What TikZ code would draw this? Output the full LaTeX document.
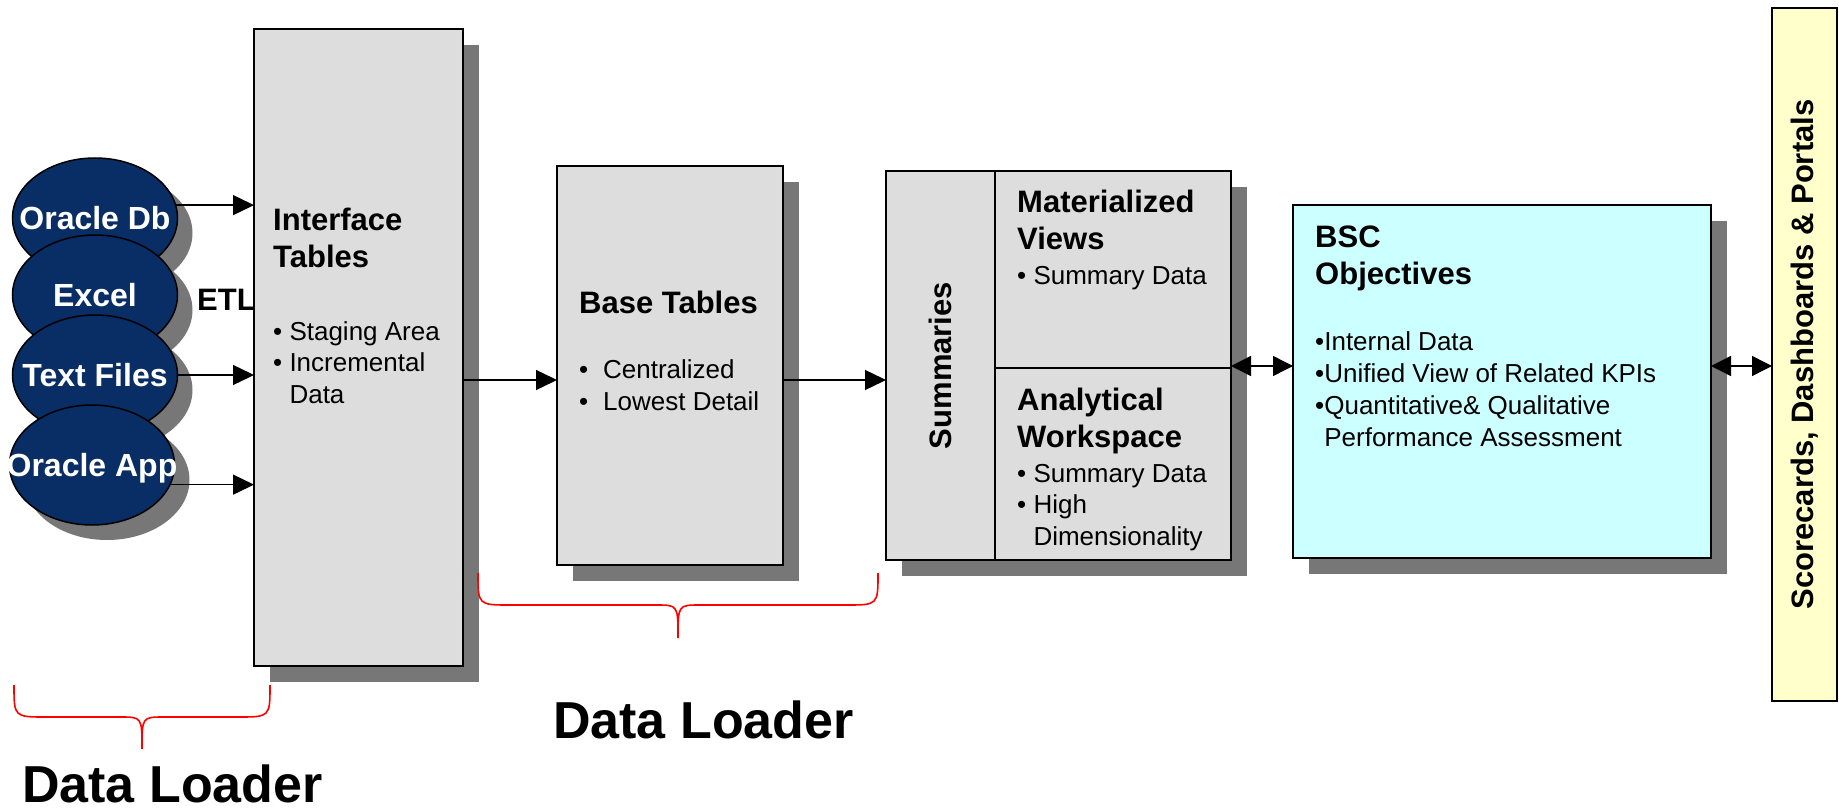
\documentclass[tikz,border=0pt]{standalone}
\usepackage{fontspec}
\setmainfont{Liberation Sans}
\usetikzlibrary{shapes.geometric,shadows,arrows.meta}
\definecolor{boxgray}{HTML}{DDDDDD}
\definecolor{shadowgray}{HTML}{777777}
\definecolor{srcnavy}{HTML}{092D65}
\definecolor{bsccyan}{HTML}{CCFFFF}
\definecolor{portalyellow}{HTML}{FFFFCC}
\tikzstyle{box} = [rectangle,draw,line width=2.2pt,fill=boxgray,anchor=north west,inner sep=0pt,outer sep=0pt]

\begin{document}
\begin{tikzpicture}
		[x=1pt,y=-1pt,
		shade/.style={drop shadow={shadow xshift=16pt,shadow yshift=-16pt,fill=shadowgray,opacity=1}},
		src/.style={
		ellipse,draw,line width=1.5pt,fill=srcnavy,text=white,
		minimum width=165pt,minimum height=120pt,inner sep=0pt,
		text height=23pt,text depth=0pt,
		font=\fontsize{32}{38}\selectfont\bfseries,
		drop shadow={shadow xshift=15pt,shadow yshift=-15pt,fill=shadowgray,opacity=1}},
		title/.style={anchor=base west,align=left,inner sep=0pt,font=\fontsize{31}{37}\selectfont\bfseries},
		items/.style={anchor=base west,align=left,inner sep=0pt,font=\fontsize{26}{31.5}\selectfont},
		big/.style={anchor=base west,inner sep=0pt,font=\fontsize{52}{60}\selectfont\bfseries},
		arr/.style={-{Triangle[length=21pt,width=20pt]},line width=1.4pt},
		darr/.style={{Triangle[length=20pt,width=20pt]}-{Triangle[length=20pt,width=20pt]},line width=1.4pt},
		brace/.style={red,line width=1.6pt}
		]
		\useasboundingbox (0,0) rectangle (1839,810);
		% sources (label boxes have no width so the ellipse keeps its size)
		\node[src] (odb) at (95,218) {\makebox[0pt]{Oracle Db}};
		\node[src] (exc) at (95,295) {\makebox[0pt]{Excel}};
		\node[src] (txt) at (95,375) {\makebox[0pt]{Text Files}};
		\node[src] (oapp) at (92,465) {\makebox[0pt]{Oracle App}};
		\node[title] (etl) at (197,310) {ETL};
		% interface and base tables (multi-line nodes sit on their last line)
		\node[box,shade,minimum width=209pt,minimum height=637pt] (itab) at (254,29) {};
		\node[title] (itab_title) at (273,268) {Interface\\Tables};
		\node[items] (itab_items) at (273,403) {• Staging Area\\• Incremental\\\phantom{• }Data};
		\node[box,shade,minimum width=226pt,minimum height=399pt] (base) at (557,166) {};
		\node[title] (base_title) at (579,313) {Base Tables};
		\node[items,font=\fontsize{26}{32}\selectfont] (base_items) at (579,410) {\makebox[24pt][l]{•}Centralized\\\makebox[24pt][l]{•}Lowest Detail};
		% summaries
		\node[box,shade,minimum width=345pt,minimum height=389pt] (sumgrp) at (886,171) {};
		\node[box,minimum width=109pt,minimum height=389pt] (sumcol) at (886,171) {};
		\node[rotate=90,font=\fontsize{31}{37}\selectfont\bfseries] (sum_title) at (sumcol.center) {Summaries};
		\node[box,minimum width=236pt,minimum height=197pt] (mview) at (995,171) {};
		\node[title] (mview_title) at (1017,250) {Materialized\\Views};
		\node[items] (mview_items) at (1017,285) {• Summary Data};
		\node[box,minimum width=236pt,minimum height=192pt] (aws) at (995,368) {};
		\node[title] (aws_title) at (1017,447) {Analytical\\Workspace};
		\node[items] (aws_items) at (1017,545) {• Summary Data\\• High\\\phantom{• }Dimensionality};
		% objectives
		\node[box,shade,fill=bsccyan,minimum width=418pt,minimum height=353pt] (bsc) at (1293,205) {};
		\node[title] (bsc_title) at (1315,285) {BSC\\Objectives};
		\node[items,font=\fontsize{26}{32}\selectfont] (bsc_items) at (1315,446) {•Internal Data\\•Unified View of Related KPIs\\•Quantitative\& Qualitative\\\phantom{•}Performance Assessment};
		% portals
		\node[box,line width=2pt,fill=portalyellow,minimum width=65pt,minimum height=693pt] (portal) at (1772,8) {};
		\node[rotate=90,font=\fontsize{31}{37}\selectfont\bfseries] (portal_title) at (portal.center) {Scorecards, Dashboards \& Portals};
		% connectors
		\coordinate (flow) at (0,380);
		\coordinate (link) at (0,366);
		\draw[arr] (odb.9) -- (odb.9 -| itab.west);
		\draw[arr] (txt.east) -- (txt.east -| itab.west);
		\draw[arr] (oapp.-14) -- (oapp.-14 -| itab.west);
		\draw[arr] (flow -| itab.east) -- (flow -| base.west);
		\draw[arr] (flow -| base.east) -- (flow -| sumcol.west);
		\draw[darr] (link -| aws.east) -- (link -| bsc.west);
		\draw[darr] (link -| bsc.east) -- (link -| portal.west);
		% braces
		\draw[brace] (14,685) .. controls (14,717) .. (46,717) -- (120,717) .. controls (142,717) .. (142,749)
			.. controls (142,717) .. (164,717) -- (238,717) .. controls (270,717) .. (270,685);
		\draw[brace] (478,573) .. controls (478,605) .. (510,605) -- (656,605) .. controls (678,605) .. (678,638)
			.. controls (678,605) .. (700,605) -- (846,605) .. controls (878,605) .. (878,573);
		\node[big] (loader_a) at (22,802) {Data Loader};
		\node[big] (loader_b) at (553,738) {Data Loader};
		\end{tikzpicture}
\end{document}
